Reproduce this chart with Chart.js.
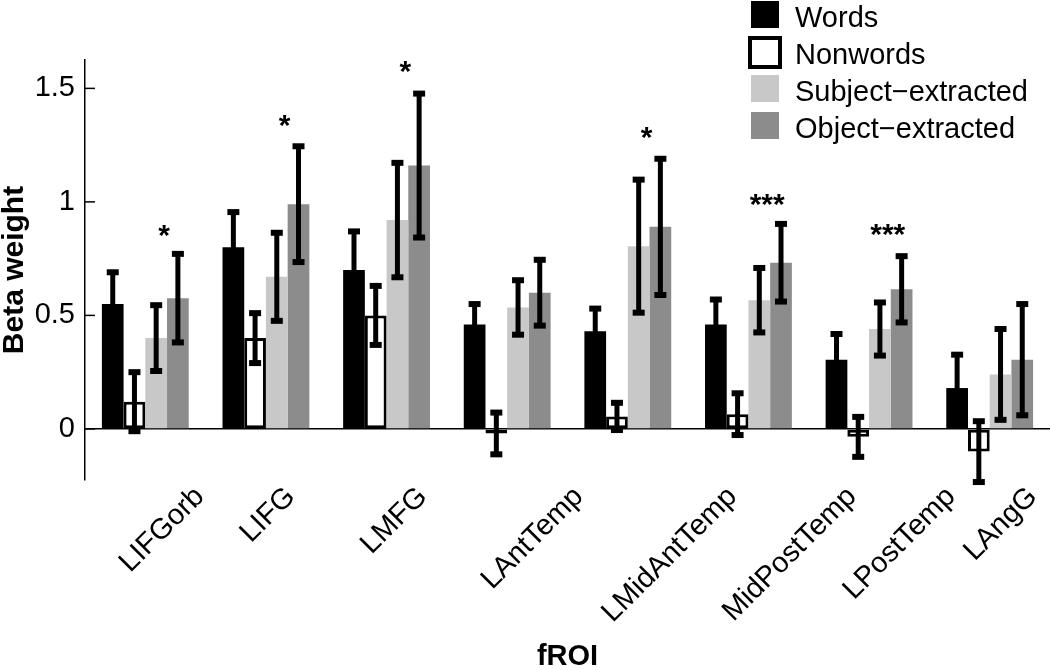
<!DOCTYPE html>
<html><head><meta charset="utf-8">
<script src="https://cdn.jsdelivr.net/npm/chart.js@4.4.1/dist/chart.umd.min.js"></script>
<style>html,body{margin:0;padding:0;background:#fff}#wrap{width:1050px;height:670px}</style>
</head><body><div id="wrap"><canvas id="c" width="1050" height="670"></canvas></div>
<script>
const categories = ['LIFGorb','LIFG','LMFG','LAntTemp','LMidAntTemp','MidPostTemp','LPostTemp','LAngG'];
const seriesNames = ['Words','Nonwords','Subject\u2212extracted','Object\u2212extracted'];
const wordsValues    = [0.55, 0.80, 0.70, 0.46, 0.43, 0.46, 0.305, 0.18];
const wordsErrors    = [0.14, 0.155, 0.17, 0.09, 0.10, 0.11, 0.113, 0.147];
const nonwordsValues = [0.12, 0.40, 0.50, -0.02, 0.055, 0.065, -0.035, -0.10];
const nonwordsErrors = [0.13, 0.11, 0.13, 0.092, 0.06, 0.092, 0.088, 0.134];
const subjectValues  = [0.40, 0.67, 0.92, 0.535, 0.805, 0.567, 0.44, 0.24];
const subjectErrors  = [0.145, 0.194, 0.252, 0.12, 0.293, 0.142, 0.117, 0.20];
const objectValues   = [0.576, 0.99, 1.16, 0.60, 0.89, 0.732, 0.615, 0.305];
const objectErrors   = [0.195, 0.255, 0.317, 0.145, 0.30, 0.171, 0.146, 0.245];
const starLabels = ['*','*','*','','*','***','***',''];
const starValues = [0.885, 1.37, 1.608, null, 1.317, 1.023, 0.889, null];
const yTickValues = [0, 0.5, 1, 1.5];

const seriesErrors = [wordsErrors, nonwordsErrors, subjectErrors, objectErrors];
const FONT = '"Liberation Sans", Arial, Helvetica, sans-serif';
Chart.defaults.font.family = FONT;
Chart.defaults.color = '#000';

function line(ctx, x1, y1, x2, y2){ ctx.beginPath(); ctx.moveTo(x1,y1); ctx.lineTo(x2,y2); ctx.stroke(); }

const labelPlacer = {
  id: 'labelPlacer',
  beforeDraw(chart){
    const xs = chart.scales.x, ctx = chart.ctx;
    const items = xs.getLabelItems();
    ctx.save();
    items.forEach((it, i) => {
      ctx.font = it.font.string;
      const w = ctx.measureText(it.label).width;
      it.options.translation[0] = xs.getPixelForTick(i) + w * Math.SQRT1_2 - 33;
    });
    ctx.restore();
  }
};

const errorBars = {
  id: 'errorBars',
  afterDatasetsDraw(chart){
    const ctx = chart.ctx, ys = chart.scales.y;
    ctx.save();
    ctx.strokeStyle = '#000';
    ctx.lineCap = 'butt';
    chart.data.datasets.forEach((ds, di) => {
      const meta = chart.getDatasetMeta(di);
      const errs = seriesErrors[di];
      meta.data.forEach((bar, j) => {
        const v = ds.data[j], e = errs[j];
        const yt = ys.getPixelForValue(v + e), yb = ys.getPixelForValue(v - e);
        ctx.lineWidth = 5;
        line(ctx, bar.x, yt, bar.x, yb);
        ctx.lineWidth = 6;
        line(ctx, bar.x - 6, yt, bar.x + 6, yt);
        line(ctx, bar.x - 6, yb, bar.x + 6, yb);
      });
    });
    // significance stars
    const m2 = chart.getDatasetMeta(2), m3 = chart.getDatasetMeta(3);
    ctx.fillStyle = '#000';
    ctx.font = 'bold 30px ' + FONT;
    ctx.textAlign = 'center';
    ctx.textBaseline = 'alphabetic';
    starLabels.forEach((s, j) => {
      if (!s || starValues[j] == null) return;
      const x = (m2.data[j].x + m3.data[j].x) / 2 - 3;
      const y = ys.getPixelForValue(starValues[j]);
      ctx.fillText(s, x, y + 17);
    });
    ctx.restore();
  }
};

const axisDecor = {
  id: 'axisDecor',
  afterDraw(chart){
    const ctx = chart.ctx, ys = chart.scales.y, ca = chart.chartArea;
    ctx.save();
    ctx.strokeStyle = '#000';
    ctx.lineWidth = 1.5;
    ys.ticks.forEach(t => {
      const y = ys.getPixelForValue(t.value);
      line(ctx, ca.left, y, ca.left + 10, y);
    });
    // legend
    const LEG_X = 751, LEG_TOP = 1, LEG_STEP = 37, BOX_W = 28, BOX_H = 27;
    chart.data.datasets.forEach((ds, i) => {
      const top = LEG_TOP + i * LEG_STEP;
      if (ds.borderWidth) {
        ctx.fillStyle = ds.backgroundColor;
        ctx.fillRect(LEG_X - 1, top, BOX_W + 2, BOX_H + 2);
        ctx.lineWidth = 4;
        ctx.strokeStyle = ds.borderColor;
        ctx.strokeRect(LEG_X - 1, top, BOX_W + 2, BOX_H + 2);
      } else {
        ctx.fillStyle = ds.backgroundColor;
        ctx.fillRect(LEG_X, top, BOX_W, BOX_H);
      }
      ctx.fillStyle = '#000';
      ctx.font = '29px ' + FONT;
      ctx.textAlign = 'left';
      ctx.textBaseline = 'alphabetic';
      ctx.fillText(ds.label, 795, top + 26);
    });
    ctx.restore();
  }
};

new Chart(document.getElementById('c'), {
  type: 'bar',
  data: {
    labels: categories,
    datasets: [
      { label: seriesNames[0], data: wordsValues, backgroundColor: '#000000', borderWidth: 0 },
      { label: seriesNames[1], data: nonwordsValues, backgroundColor: '#ffffff', borderColor: '#000000', borderWidth: 3, borderSkipped: false },
      { label: seriesNames[2], data: subjectValues, backgroundColor: '#c8c8c8', borderWidth: 0 },
      { label: seriesNames[3], data: objectValues, backgroundColor: '#8c8c8c', borderWidth: 0 }
    ]
  },
  options: {
    responsive: false,
    animation: false,
    events: [],
    datasets: { bar: { categoryPercentage: 0.72, barPercentage: 1 } },
    layout: { padding: { top: 60, left: 0, right: 0, bottom: 0 } },
    plugins: { legend: { display: false }, tooltip: { enabled: false } },
    scales: {
      x: {
        grid: { display: false, drawTicks: false },
        border: { display: false },
        ticks: { autoSkip: false, maxRotation: 45, minRotation: 45, padding: 0, color: '#000', font: { size: 29 } },
        title: { display: true, text: 'fROI', color: '#000', font: { size: 29, weight: 'bold', lineHeight: 0.9 }, padding: 0 },
        afterFit(s){ s.height = 190; }
      },
      y: {
        min: -0.225, max: 1.625,
        afterBuildTicks(s){ s.ticks = yTickValues.map(v => ({ value: v })); },
        ticks: { padding: 10, color: '#000', font: { size: 29 }, callback: v => String(v) },
        grid: { drawTicks: false, lineWidth: 1.5, color: c => (c.tick && c.tick.value === 0) ? '#000' : 'rgba(0,0,0,0)' },
        border: { display: true, color: '#000', width: 1.5 },
        title: { display: true, text: 'Beta weight', color: '#000', font: { size: 30, weight: 'bold', lineHeight: 1 }, padding: 0 },
        afterFit(s){ s.width = 85; }
      }
    }
  },
  plugins: [labelPlacer, errorBars, axisDecor]
});
</script>
</body></html>
